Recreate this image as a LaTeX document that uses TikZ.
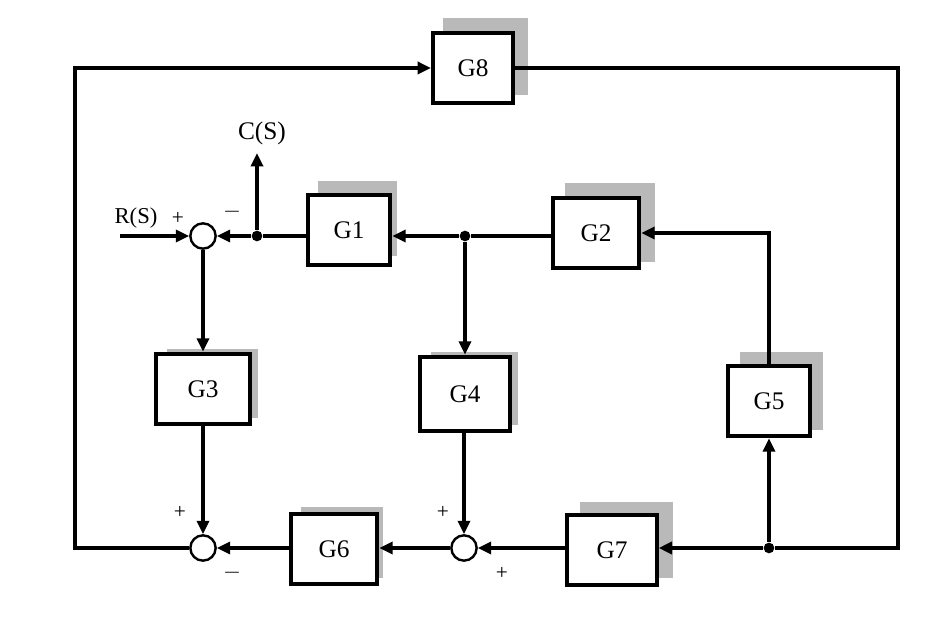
\documentclass[tikz,border=0pt]{standalone}
\usepackage{fontspec}
\setmainfont{Liberation Serif}
\usetikzlibrary{arrows.meta,calc}
\begin{document}
\begin{tikzpicture}[x=0.75pt,y=-0.75pt,
  wire/.style={line width=2.6pt},
  >={Triangle[length=10pt,width=9pt]},
  blk/.style={draw,line width=3pt,fill=white,minimum width=62pt,minimum height=53pt,inner sep=0pt,font=\fontsize{19}{21}\selectfont},
  sum/.style={draw,circle,line width=1.8pt,minimum size=19pt,inner sep=0pt,fill=white},
  dot/.style={circle,fill=black,inner sep=0pt,minimum size=8pt},
  sgn/.style={font=\fontsize{16}{18}\selectfont}]
\useasboundingbox (0,0) rectangle (946,630);
% blocks with shadows
\fill[gray!55] (443,18) rectangle (528,95);
\node[blk,minimum width=60pt] (g8) at (473,68) {G8};
\fill[gray!55] (318,181) rectangle (397,256);
\node[blk] (g1) at (349,230) {G1};
\fill[gray!55] (565,183) rectangle (655,262);
\node[blk,minimum width=65pt] (g2) at (596,233) {G2};
\fill[gray!55] (167,349) rectangle (258,418);
\node[blk,minimum width=70pt] (g3) at (203,389) {G3};
\fill[gray!55] (431,352) rectangle (518,425);
\node[blk,minimum width=67pt,minimum height=56pt] (g4) at (465,394) {G4};
\fill[gray!55] (740,352) rectangle (823,430);
\node[blk] (g5) at (769,401) {G5};
\fill[gray!55] (301,507) rectangle (383,578);
\node[blk,minimum width=65pt] (g6) at (334,549) {G6};
\fill[gray!55] (580,502) rectangle (673,578);
\node[blk,minimum width=67pt] (g7) at (612,550) {G7};
% summing points and branch points
\node[sum] (s1) at (203,236) {};
\node[sum] (s2) at (203,548) {};
\node[sum] (s3) at (464,548) {};
\node[dot] (d1) at (257,236) {};
\node[dot] (d2) at (465,236) {};
\node[dot] (d3) at (769,548) {};
\coordinate (rin) at (120,236);
\coordinate (cout) at (257,153);
\coordinate (tl) at (75,68);
\coordinate (tr) at (898,68);
\coordinate (br) at (898,548);
\coordinate (bl) at (75,548);
\coordinate (g5t) at (769,233);
% labels
\node[font=\fontsize{17}{19}\selectfont] (rs) at (136,218) {R(S)};
\node[font=\fontsize{19}{21}\selectfont] (cs) at (262,133) {C(S)};
\node[sgn] (p1) at (178,218) {+};
\node[sgn] (m1) at (232,212) {$-$};
\node[sgn] (p2) at (180,512) {+};
\node[sgn] (m2) at (232,573) {$-$};
\node[sgn] (p3) at (443,512) {+};
\node[sgn] (p4) at (502,573) {+};
% connectors
\begin{scope}[wire]
\draw[->] (rin) -- (s1);
\draw (g1.west |- d1) -- (d1);
\draw[->] (d1) -- (s1);
\draw[->] (d1) -- (cout);
\draw (g2.west |- d2) -- (d2);
\draw[->] (d2) -- (g1.east |- d2);
\draw[->] (d2) -- (g4.north -| d2);
\draw[->] (s1) -- (g3);
\draw[->] (g3) -- (s2);
\draw[->] (g4.south -| s3) -- (s3);
\draw[->] (g7.west |- s3) -- (s3);
\draw[->] (s3) -- (g6.east |- s3);
\draw[->] (g6.west |- s2) -- (s2);
\draw[->] (s2) -- (bl) -- (tl) -- (g8);
\draw (g8) -- (tr) -- (br) -- (d3);
\draw[->] (d3) -- (g7.east |- d3);
\draw[->] (d3) -- (g5);
\draw[->] (g5) -- (g5t) -- (g2.east |- g5t);
\end{scope}
\end{tikzpicture}
\end{document}
